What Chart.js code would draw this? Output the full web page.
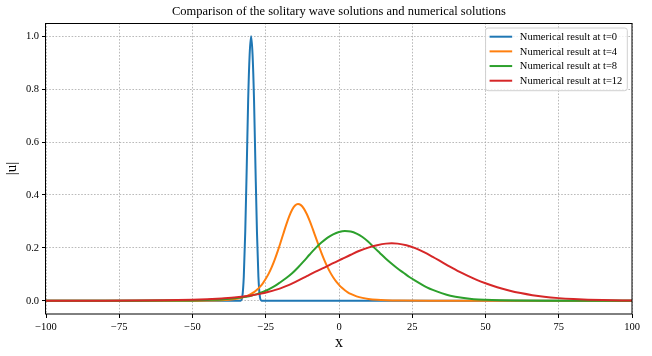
<!DOCTYPE html>
<html>
<head>
<meta charset="utf-8">
<script src="https://cdn.jsdelivr.net/npm/chart.js@4/dist/chart.umd.min.js"></script>
<style>
html,body{margin:0;padding:0;background:#fff;}
#wrap{width:652px;height:356px;position:relative;}
</style>
</head>
<body>
<div id="wrap"><canvas id="c" width="652" height="356"></canvas></div>
<script>
// ---- data ----
const chartTitle = 'Comparison of the solitary wave solutions and numerical solutions';
const seriesLabels = ['Numerical result at t=0','Numerical result at t=4','Numerical result at t=8','Numerical result at t=12'];
const seriesColors = ['#1f77b4','#ff7f0e','#2ca02c','#d62728'];
const xTicks = [-100,-75,-50,-25,0,25,50,75,100];
const yTicks = [0.0,0.2,0.4,0.6,0.8,1.0];

// t = 0
const x_t0 = [-100,-40,-34,-33.5,-33,-32.5,-32,-31.5,-31,-30.5,-30,-29.5,-29,-28.5,-28,-27.5,-27,-26.5,-26,-20,100];
const u_t0 = [0,0,0,0.001,0.015,0.09,0.26,0.50,0.76,0.93,1.0,0.93,0.76,0.50,0.26,0.09,0.015,0.001,0,0,0];

// t = 4
const x_t4 = [-100,-54,-44,-39,-36,-34,-32,-31,-30,-29,-28,-27,-26,-25,-24,-23,-22,-21,-20,-19,-18,-17,-16,-15,-14,
              -13,-12,-11,-10,-9,-8,-7,-6,-5,-4,-3,-2,-1,0,1,2,3,4,6,8,10,13,16,21,31,100];
const u_t4 = [0,0.0001,0.0008,0.0028,0.0059,0.0097,0.0159,0.0204,0.0259,0.0328,0.0417,0.0527,0.0661,0.083,0.1026,0.1264,0.1537,0.1847,0.2184,0.2534,0.2878,0.319,0.344,0.3603,0.366,
              0.3615,0.3485,0.328,0.302,0.2725,0.2415,0.2107,0.1813,0.1537,0.1289,0.1074,0.0889,0.0732,0.0599,0.0489,0.0396,0.0321,0.0259,0.0168,0.0109,0.0070,0.0036,0.0019,0.0006,0.00006,0];

// t = 8
const x_t8 = [-100,-70,-60,-50,-45,-40,-35,-32,-30,-28,-26,-24,-22,-20,-18,-16,-14,-12,-10,-8,-6,-4,-2,0,2,4,6,8,10,12,14,16,18,20,22,24,26,28,30,32,35,38,42,46,50,55,60,70,100];
const u_t8 = [0,0.0002,0.0006,0.0015,0.003,0.005,0.01,0.015,0.019,0.025,0.033,0.043,0.055,0.070,0.086,0.104,0.126,0.150,0.175,0.199,0.220,0.238,0.251,0.260,0.264,0.262,0.254,0.241,0.223,0.201,0.180,0.159,0.140,0.122,0.106,0.090,0.076,0.063,0.051,0.041,0.029,0.019,0.011,0.006,0.0035,0.0017,0.0008,0.0002,0];

// t = 12
const x_t12 = [-100,-80,-70,-60,-50,-45,-40,-35,-30,-27,-24,-20,-17,-14,-11,-8,-5,-2,1,4,7,10,13,16,18,20,23,26,29,32,35,38,41,44,47,50,54,58,62,66,70,75,80,85,90,100];
const u_t12 = [0.0001,0.0005,0.001,0.002,0.004,0.006,0.009,0.013,0.020,0.026,0.034,0.047,0.060,0.076,0.093,0.110,0.125,0.142,0.158,0.174,0.189,0.201,0.210,0.216,0.217,0.216,0.210,0.199,0.184,0.166,0.147,0.128,0.110,0.094,0.079,0.066,0.051,0.039,0.029,0.021,0.015,0.010,0.0065,0.004,0.0025,0.001];

const seriesX = [x_t0, x_t4, x_t8, x_t12];
const seriesY = [u_t0, u_t4, u_t8, u_t12];

// ---- build datasets ----
const serif = '"Liberation Serif", "Times New Roman", serif';
const datasets = seriesLabels.map((lab, i) => ({
  label: lab,
  data: seriesX[i].map((x, j) => ({x: x, y: seriesY[i][j]})),
  borderColor: seriesColors[i],
  backgroundColor: seriesColors[i],
  borderWidth: 2,
  pointRadius: 0,
  fill: false,
  cubicInterpolationMode: 'monotone',
  order: seriesLabels.length - i
}));

const titleCenter = {
  id: 'titleCenter',
  afterLayout(chart) {
    const t = chart.titleBlock;
    if (!t) return;
    const ca = chart.chartArea;
    const dx = (ca.left + ca.right) / 2 - (t.left + t.right) / 2;
    t.left += dx; t.right += dx;
  }
};

const frameAndLegend = {
  id: 'frameAndLegend',
  afterDraw(chart) {
    const ctx = chart.ctx, ca = chart.chartArea;
    ctx.save();
    // frame (all four spines)
    ctx.strokeStyle = '#000';
    ctx.lineWidth = 1;
    ctx.strokeRect(Math.round(ca.left) - 0.5, Math.round(ca.top) + 0.5, Math.round(ca.right - ca.left) + 0.5, Math.round(ca.bottom - ca.top) - 0.5);
    // legend
    const ds = chart.data.datasets;
    ctx.font = '10.5px ' + serif;
    let tw = 0;
    ds.forEach(d => { tw = Math.max(tw, ctx.measureText(d.label).width); });
    const padL = 4, lineLen = 22.6, gap = 7.7, padR = 5, rowH = 14.67;
    const boxW = padL + lineLen + gap + tw + padR;
    const boxH = 62.7;
    const bx = ca.right - 4.7 - boxW, by = ca.top + 5;
    const r = 2.5;
    ctx.beginPath();
    ctx.moveTo(bx + r, by);
    ctx.lineTo(bx + boxW - r, by);
    ctx.quadraticCurveTo(bx + boxW, by, bx + boxW, by + r);
    ctx.lineTo(bx + boxW, by + boxH - r);
    ctx.quadraticCurveTo(bx + boxW, by + boxH, bx + boxW - r, by + boxH);
    ctx.lineTo(bx + r, by + boxH);
    ctx.quadraticCurveTo(bx, by + boxH, bx, by + boxH - r);
    ctx.lineTo(bx, by + r);
    ctx.quadraticCurveTo(bx, by, bx + r, by);
    ctx.closePath();
    ctx.fillStyle = 'rgba(255,255,255,0.8)';
    ctx.fill();
    ctx.strokeStyle = '#d0d0d0';
    ctx.lineWidth = 1;
    ctx.stroke();
    ds.forEach((d, i) => {
      const cy = by + 8.7 + i * rowH;
      ctx.beginPath();
      ctx.strokeStyle = d.borderColor;
      ctx.lineWidth = 2;
      ctx.moveTo(bx + padL, cy);
      ctx.lineTo(bx + padL + lineLen, cy);
      ctx.stroke();
      ctx.fillStyle = '#000';
      ctx.textBaseline = 'middle';
      ctx.textAlign = 'left';
      ctx.fillText(d.label, bx + padL + lineLen + gap, cy + 0.5);
    });
    ctx.restore();
  }
};

const gridOpts = {color: '#a8a8a8', lineWidth: 0.8, tickColor: '#000', tickLength: 4, tickWidth: 1, drawTicks: true};

new Chart(document.getElementById('c'), {
  type: 'line',
  data: {datasets: datasets},
  options: {
    responsive: false,
    devicePixelRatio: 1,
    animation: false,
    parsing: true,
    layout: {padding: {left: 0, right: 20, top: 0, bottom: 0}},
    plugins: {
      legend: {display: false},
      tooltip: {enabled: false},
      title: {
        display: true,
        text: chartTitle,
        color: '#000',
        font: {family: serif, size: 12.5, weight: 'normal'},
        padding: {top: 4.5, bottom: 3.5}
      }
    },
    scales: {
      x: {
        type: 'linear',
        min: -100, max: 100,
        afterBuildTicks: (axis) => { axis.ticks = xTicks.map(v => ({value: v})); },
        afterFit: (s) => { s.height = 42; },
        ticks: {
          color: '#000',
          font: {family: serif, size: 10.5},
          padding: 3,
          maxRotation: 0,
          autoSkip: false,
          callback: (v) => String(v).replace('-', '\u2212')
        },
        grid: gridOpts,
        border: {display: false, dash: [1.6, 1.6]},
        title: {display: true, text: 'x', color: '#000', font: {family: serif, size: 16}, padding: {top: 0, bottom: 3.5}}
      },
      y: {
        type: 'linear',
        min: -0.05, max: 1.05,
        afterBuildTicks: (axis) => { axis.ticks = yTicks.map(v => ({value: v})); },
        afterFit: (s) => { s.width = 46; },
        ticks: {
          color: '#000',
          font: {family: serif, size: 10.5},
          padding: 3,
          autoSkip: false,
          callback: (v) => Number(v).toFixed(1)
        },
        grid: gridOpts,
        border: {display: false, dash: [1.6, 1.6]},
        title: {display: true, text: '|u|', color: '#000', font: {family: serif, size: 15}, padding: {top: 3.5, bottom: 0}}
      }
    }
  },
  plugins: [titleCenter, frameAndLegend]
});
</script>
</body>
</html>
